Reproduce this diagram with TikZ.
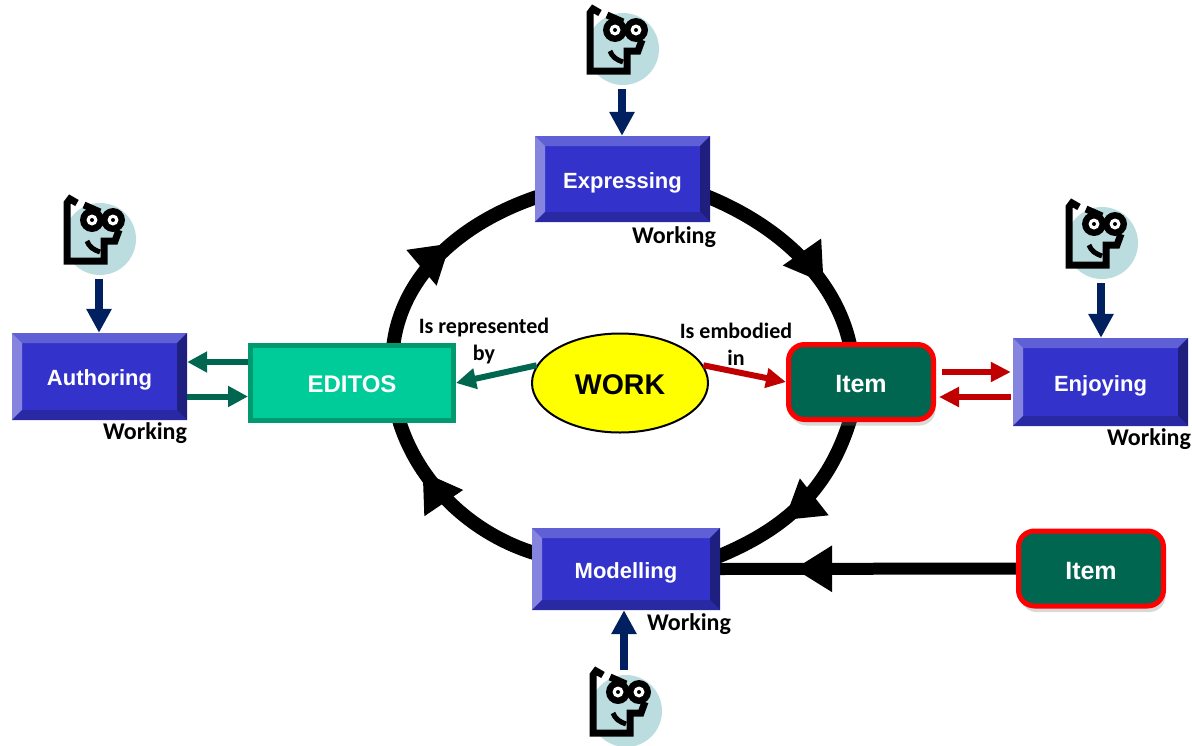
\documentclass[tikz,border=0pt]{standalone}
\usepackage{fontspec}
\setmainfont{Liberation Sans}
\newfontfamily\labelfont{Carlito}
\usetikzlibrary{arrows.meta,backgrounds,decorations.markings,shadows,shapes.geometric}
\definecolor{bevelface}{HTML}{3333CC}
\definecolor{beveltop}{HTML}{5F5FD6}
\definecolor{bevelleft}{HTML}{8585E0}
\definecolor{bevelright}{HTML}{1F1F80}
\definecolor{bevelbottom}{HTML}{2929A3}
\definecolor{itemgreen}{HTML}{006650}
\definecolor{editosfill}{HTML}{00CC99}
\definecolor{editosline}{HTML}{009970}
\definecolor{readerfill}{HTML}{BBDDDF}
\definecolor{navy}{HTML}{002060}
\definecolor{darkred}{HTML}{C00000}
\definecolor{workyellow}{HTML}{FFFF00}
\tikzset{font=\fontsize{22}{25}\selectfont\bfseries}
\tikzset{every node/.append style={transform shape=false}}
\tikzset{
  processbox/.style={rectangle, fill=bevelface, text=white, inner sep=0pt,
    text height=18pt, text depth=0pt, minimum width=#1, minimum height=86pt,
    path picture={
      \def\ppb{path picture bounding box}
      \fill[beveltop] (\ppb.north west) -- (\ppb.north east) -- ([shift={(-10pt,-10pt)}]\ppb.north east) -- ([shift={(10pt,-10pt)}]\ppb.north west) -- cycle;
      \fill[bevelleft] (\ppb.north west) -- (\ppb.south west) -- ([shift={(10pt,10pt)}]\ppb.south west) -- ([shift={(10pt,-10pt)}]\ppb.north west) -- cycle;
      \fill[bevelright] (\ppb.north east) -- (\ppb.south east) -- ([shift={(-10pt,10pt)}]\ppb.south east) -- ([shift={(-10pt,-10pt)}]\ppb.north east) -- cycle;
      \fill[bevelbottom] (\ppb.south west) -- (\ppb.south east) -- ([shift={(-10pt,10pt)}]\ppb.south east) -- ([shift={(10pt,10pt)}]\ppb.south west) -- cycle;
    }},
  itembox/.style={rectangle, rounded corners=16pt, draw=red, line width=5pt, fill=itemgreen, text=white,
    text height=21pt, text depth=0pt,
    minimum width=145pt, minimum height=75pt, inner sep=0pt, font=\fontsize{25}{28}\selectfont\bfseries,
    drop shadow={shadow xshift=2pt, shadow yshift=-6pt, opacity=.3}},
  editosbox/.style={rectangle, draw=editosline, line width=5pt, fill=editosfill, text=white,
    text height=19pt, text depth=0pt,
    minimum width=203pt, minimum height=75pt, inner sep=0pt, font=\fontsize{24}{28}\selectfont\bfseries},
  workoval/.style={ellipse, draw=black, line width=2pt, fill=workyellow, minimum width=176pt, minimum height=99pt,
    text height=22pt, text depth=0pt,
    inner sep=0pt, font=\fontsize{28.5}{30}\selectfont\bfseries},
  caption/.style={font=\labelfont\fontsize{22}{27}\selectfont\bfseries, align=center, inner sep=0pt},
  workingtag/.style={font=\labelfont\fontsize{24}{27}\selectfont\bfseries, inner sep=0pt},
  ringline/.style={line width=14pt, shorten <=-8pt, shorten >=-8pt, postaction={decorate, decoration={markings,
    mark=at position #1 with {\arrow{Triangle[length=38pt,width=44pt]}}}}},
  navyarrow/.style={-{Triangle[length=24pt,width=24pt]}, line width=8pt, draw=navy},
  greenarrow/.style={-{Triangle[length=20pt,width=20pt]}, line width=6pt, draw=itemgreen},
  redarrow/.style={-{Triangle[length=20pt,width=19pt]}, line width=6pt, draw=darkred},
  reader/.pic={
    \coordinate (-foot) at (-1,40);
    \coordinate (-top) at (-2,-41);
    \fill[readerfill] (0,0) circle (36);
    \draw[line width=7pt, miter limit=2] (-23,-36) -- (-30,-40) -- (-33,-36) -- (-33,22) -- (4,22) -- (4,2) -- (15,2) -- (19,-9);
    \draw[line width=7pt] (-16,-34) -- (0,-27);
    \draw[line width=5pt] (-13,2) .. controls (-11,8) and (-6,11) .. (0,13);
    \foreach \eyex in {-8,13} {
      \fill (\eyex,-19) circle (12);
      \fill[white] (\eyex,-19) circle (5.5);
      \fill (\eyex,-19) circle (2);
    }
  }
}

\begin{document}
\begin{tikzpicture}[x=1pt,y=-1pt]
  \useasboundingbox (0,0) rectangle (1192,745);

  \node[processbox=175pt] (expressing) at (622.5,179) {Expressing};
  \node[processbox=175pt, minimum height=87pt] (authoring) at (99.5,376.5) {Authoring};
  \node[processbox=175pt, minimum height=88pt] (enjoying) at (1100.5,382) {Enjoying};
  \node[processbox=188pt, minimum height=82pt] (modelling) at (626,569) {Modelling};
  \node[editosbox] (editos) at (352,383) {EDITOS};
  \node[workoval] (work) at (620,383) {WORK};
  \node[itembox] (itemmain) at (861,382) {Item};
  \node[itembox] (itemsource) at (1091,568.5) {Item};

  \pic (readerexp) at (623,49) {reader};
  \pic (readerauth) at (100,239) {reader};
  \pic (readerenj) at (1102,243) {reader};
  \pic (readermod) at (626,711) {reader};

  \begin{scope}[on background layer]
    \draw[ringline=.69] (expressing.-12) .. controls (780,225) and (838,280) .. (itemmain.106);
    \draw[ringline=.62] (itemmain.-106) .. controls (830,490) and (785,530) .. (modelling.8);
    \draw[ringline=.72] (modelling.170) .. controls (470,535) and (415,480) .. (editos.-40);
    \draw[ringline=.55] (editos.44) .. controls (398,285) and (450,225) .. (expressing.192);
    \draw[ringline=.75, line width=12pt, shorten <=0pt, shorten >=0pt] (itemsource.west) -- (modelling.east);
  \end{scope}

  \draw[navyarrow] (readerexp-foot) -- (readerexp-foot |- expressing.north);
  \draw[navyarrow] (readerauth-foot) -- (readerauth-foot |- authoring.north);
  \draw[navyarrow] (readerenj-foot) -- (readerenj-foot |- enjoying.north);
  \draw[navyarrow] (readermod-top) -- (readermod-top |- modelling.south);

  \draw[greenarrow] ([yshift=21pt]editos.west) -- ([yshift=21pt]editos.west -| authoring.east);
  \draw[greenarrow] ([yshift=-20pt]authoring.east) -- ([yshift=-20pt]authoring.east -| editos.west);
  \draw[greenarrow] (work.168) -- (editos.east);

  \draw[redarrow] (work.12) -- (itemmain.west);
  \draw[redarrow, shorten <=6pt, shorten >=2pt] ([yshift=10pt]itemmain.east) -- ([yshift=10pt]itemmain.east -| enjoying.west);
  \draw[redarrow, shorten <=2pt, shorten >=3pt] ([yshift=-15pt]enjoying.west) -- ([yshift=-15pt]enjoying.west -| itemmain.east);

  \node[workingtag] (workexp) at (674,237) {Working};
  \node[workingtag] (workauth) at (145,433) {Working};
  \node[workingtag] (workenj) at (1149,439) {Working};
  \node[workingtag] (workmod) at (689,624) {Working};
  \node[caption] (represented) at (484,341) {Is represented\\by};
  \node[caption] (embodied) at (736,344) {Is embodied\\in};
\end{tikzpicture}
\end{document}
